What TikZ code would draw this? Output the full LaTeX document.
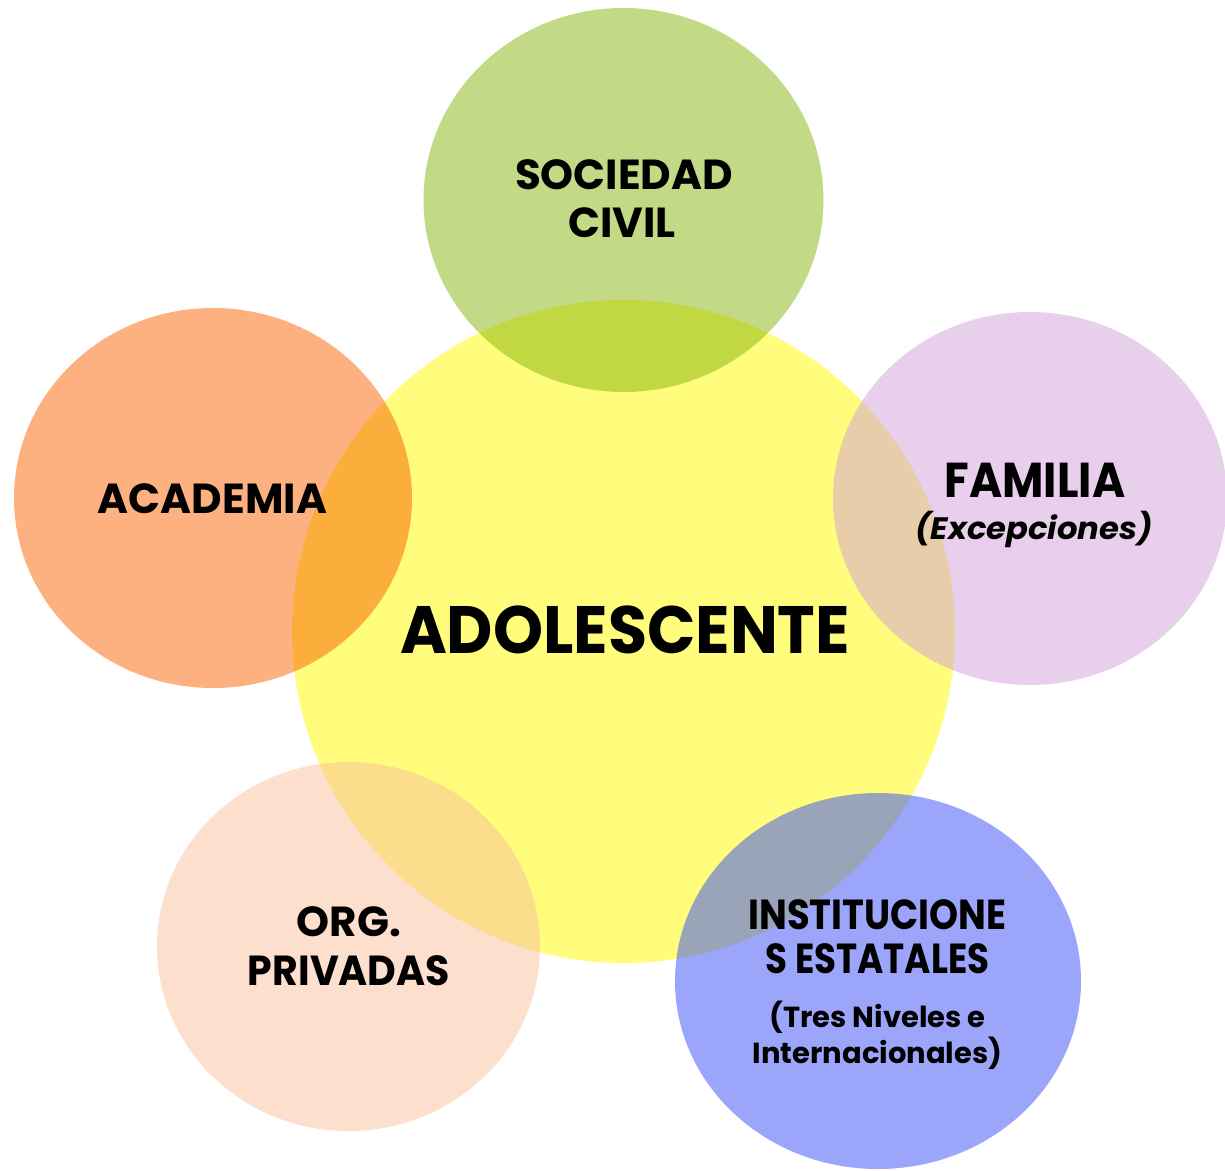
\documentclass[tikz,border=0pt]{standalone}
\usepackage{fontspec}
\setmainfont{Poppins}
\usetikzlibrary{shapes.geometric}
\definecolor{cyel}{RGB}{255,253,123}
\definecolor{cgreen}{RGB}{133,181,11}
\definecolor{corange}{RGB}{251,97,1}
\definecolor{cpurple}{RGB}{209,159,215}
\definecolor{cblue}{RGB}{55,77,245}
\definecolor{cpeach}{RGB}{251,191,155}
\tikzset{
  blob/.style={ellipse, inner sep=0pt, fill opacity=0.5, draw=none},
  lbl/.style={anchor=base, inner sep=0pt, text=black, font=\bfseries\fontsize{42}{42}\selectfont},
  sml/.style={anchor=base, inner sep=0pt, text=black, font=\bfseries\fontsize{29}{29}\selectfont},
}
\begin{document}
\begin{tikzpicture}[x=1pt,y=-1pt]
\useasboundingbox (0,0) rectangle (1225,1170);
\node[ellipse, inner sep=0pt, fill=cyel, minimum width=663pt, minimum height=663pt] (ado) at (623.5,631.5) {};
\node[blob, fill=cgreen, minimum width=400pt, minimum height=384pt] (civil) at (623.5,200) {};
\node[blob, fill=corange, minimum width=398pt, minimum height=380pt] (acad) at (213,498) {};
\node[blob, fill=cpurple, minimum width=394pt, minimum height=373pt] (fam) at (1030,498.5) {};
\node[blob, fill=cpeach, minimum width=383pt, minimum height=369pt] (org) at (348.5,946.5) {};
\node[blob, fill=cblue, minimum width=406pt, minimum height=376pt] (inst) at (878,981) {};
% labels
\node[anchor=base, inner sep=0pt, font=\bfseries\fontsize{67}{67}\selectfont] (tado) at (625,653) {\scalebox{0.95}[1]{ADOLESCENTE}};
\node[lbl] (tciv1) at (624,189) {SOCIEDAD};
\node[lbl] (tciv2) at (622,237) {CIVIL};
\node[lbl] (tacad) at (212.5,513) {ACADEMIA};
\node[lbl, font=\bfseries\fontsize{49}{49}\selectfont] (tfam) at (1035,497) {\scalebox{0.92}[1]{FAMILIA}};
\node[sml, font=\bfseries\itshape\fontsize{31}{31}\selectfont] (tfam2) at (1034,539) {\scalebox{1.04}[1]{(Excepciones)}};
\node[lbl] (torg1) at (349,936) {ORG.};
\node[lbl] (torg2) at (349,985) {\scalebox{0.94}[1]{PRIVADAS}};
\node[lbl] (tinst1) at (877.5,929) {\scalebox{0.88}[1]{INSTITUCIONE}};
\node[lbl] (tinst2) at (877.5,973) {\scalebox{0.85}[1]{S ESTATALES}};
\node[sml] (tinst3) at (877.5,1027) {(Tres Niveles e};
\node[sml] (tinst4) at (877.5,1063) {Internacionales)};
\end{tikzpicture}
\end{document}
